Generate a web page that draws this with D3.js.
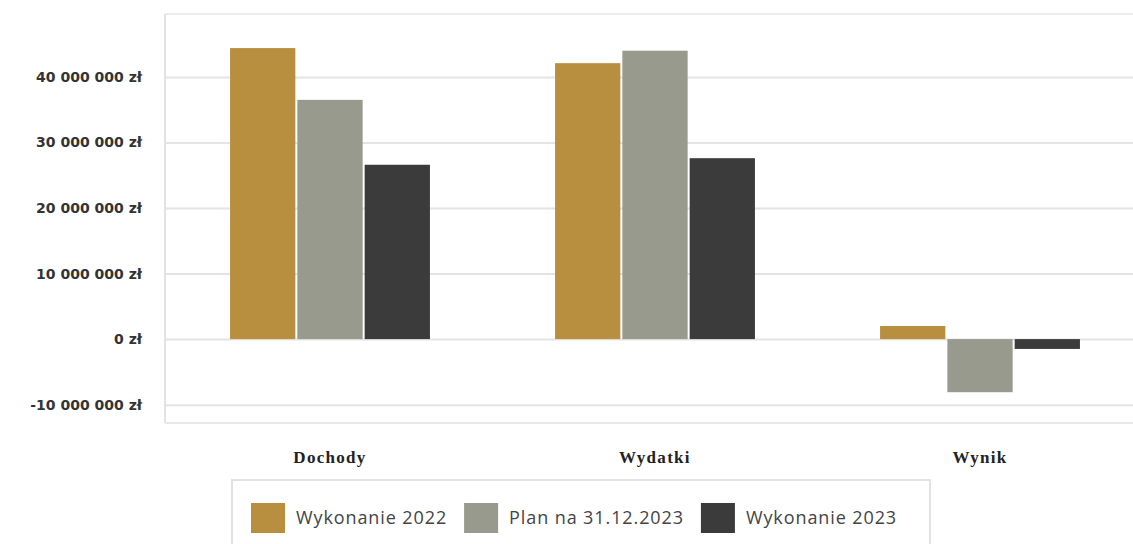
<!DOCTYPE html>
<html>
<head>
<meta charset="utf-8">
<script src="https://cdn.jsdelivr.net/npm/d3@7"></script>
<style>
  body { margin: 0; background: #fff; }
  svg { display: block; }
</style>
</head>
<body>
<div id="vis"></div>
<script>
const categories = ['Dochody', 'Wydatki', 'Wynik']
const seriesNames = ['Wykonanie 2022', 'Plan na 31.12.2023', 'Wykonanie 2023']
const wykonanie2022 = [44400000, 42100000, 2000000]
const plan2023 = [36500000, 44000000, -8100000]
const wykonanie2023 = [26600000, 27600000, -1500000]
const yTicks = [-10000000, 0, 10000000, 20000000, 30000000, 40000000]
const colors = ['#b88f3f', '#979a8c', '#3b3b3b']

const W = 1133, H = 544
const plot = {left: 165, top: 14, bottom: 423, right: 1142}

const rows = categories.map((c, i) => ({
    cat: c,
    vals: [wykonanie2022[i], plan2023[i], wykonanie2023[i]]
}))

let svg = d3.select('#vis').append('svg')
    .attr('width', W)
    .attr('height', H)

let y = d3.scaleLinear()
    .domain([-12800000, 49600000])
    .range([plot.bottom, plot.top])

let x0 = d3.scaleBand()
    .domain(categories)
    .range([167.5, 1142.5])
    .paddingInner(0.385)
    .paddingOuter(0.1925)

let x1 = d3.scaleBand()
    .domain(seriesNames)
    .range([0, x0.bandwidth()])
    .paddingInner(0.03)

let fmt = v => d3.format(',')(Math.abs(v)).replace(/,/g, ' ') + ' zł'
let fmtSigned = v => (v < 0 ? '-' : '') + fmt(v)

// grid
let yAxis = d3.axisLeft(y)
    .tickValues(yTicks)
    .tickSize(-(W - plot.left))
    .tickFormat(fmtSigned)
    .tickPadding(23)

svg.append('g')
    .attr('transform', `translate(${plot.left},0)`)
    .call(yAxis)
    .call(g => g.select('.domain').remove())
    .call(g => g.selectAll('.tick line')
        .attr('stroke', '#e4e4e4')
        .attr('stroke-width', 2))
    .call(g => g.selectAll('.tick text')
        .attr('fill', '#333')
        .attr('font-family', '"DejaVu Sans", sans-serif')
        .attr('font-weight', 'bold')
        .attr('font-size', '14px'))

// frame lines
svg.append('line')
    .attr('x1', plot.left).attr('x2', W)
    .attr('y1', plot.top).attr('y2', plot.top)
    .attr('stroke', '#ececec').attr('stroke-width', 2)
svg.append('line')
    .attr('x1', plot.left).attr('x2', W)
    .attr('y1', plot.bottom).attr('y2', plot.bottom)
    .attr('stroke', '#e8e8e8').attr('stroke-width', 2)
svg.append('line')
    .attr('x1', plot.left).attr('x2', plot.left)
    .attr('y1', plot.top).attr('y2', plot.bottom)
    .attr('stroke', '#e2e2e2').attr('stroke-width', 2)

// bars
let groups = svg.selectAll('.group')
    .data(rows)
    .enter()
    .append('g')
        .attr('class', 'group')
        .attr('transform', d => `translate(${x0(d.cat)},0)`)

groups.selectAll('rect')
    .data(d => d.vals.map((v, i) => ({name: seriesNames[i], v: v, i: i})))
    .enter()
    .append('rect')
        .attr('x', d => x1(d.name))
        .attr('width', x1.bandwidth())
        .attr('y', d => y(Math.max(0, d.v)))
        .attr('height', d => Math.abs(y(d.v) - y(0)))
        .attr('fill', d => colors[d.i])

// category labels
svg.selectAll('.cat-label')
    .data(categories)
    .enter()
    .append('text')
        .attr('class', 'cat-label')
        .attr('x', d => x0(d) + x0.bandwidth() / 2)
        .attr('y', 463)
        .attr('text-anchor', 'middle')
        .attr('font-family', '"Liberation Serif", serif')
        .attr('font-weight', 'bold')
        .attr('font-size', '17px')
        .attr('letter-spacing', '1.3px')
        .attr('fill', '#222')
        .text(d => d)

// legend
let legend = svg.append('g').attr('class', 'legend')
legend.append('rect')
    .attr('x', 232).attr('y', 480)
    .attr('width', 698).attr('height', 80)
    .attr('fill', '#fff')
    .attr('stroke', '#e2e2e2')
    .attr('stroke-width', 2)

let lx = 251
seriesNames.forEach((name, i) => {
    legend.append('rect')
        .attr('x', lx).attr('y', 503)
        .attr('width', 34).attr('height', 30)
        .attr('fill', colors[i])
    let t = legend.append('text')
        .attr('x', lx + 45)
        .attr('y', 518)
        .attr('dy', '0.35em')
        .attr('font-family', '"Open Sans", sans-serif')
        .attr('font-size', '18px')
        .attr('letter-spacing', '0.9px')
        .attr('fill', '#444')
        .text(name)
    lx += 45 + t.node().getComputedTextLength() + 17
})
</script>
</body>
</html>
